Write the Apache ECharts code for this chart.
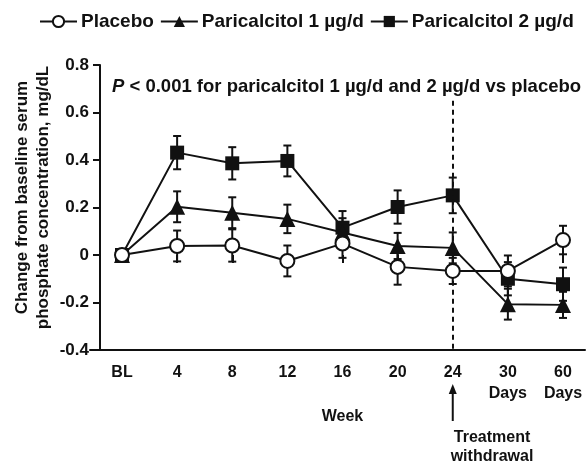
<!DOCTYPE html>
<html><head><meta charset="utf-8">
<script src="https://cdn.jsdelivr.net/npm/echarts@6/dist/echarts.min.js"></script>
<style>html,body{margin:0;padding:0;background:#fff}#c{width:586px;height:465px}</style>
</head><body><div id="c"></div>
<script>
const categories = ['BL','4','8','12','16','20','24','30\nDays','60\nDays'];
const yTicks = { min: -0.4, max: 0.8, interval: 0.2 };
const placebo    = [0, 0.038, 0.040, -0.025, 0.048, -0.050, -0.067, -0.067, 0.063];
const placeboErr = [0, 0.065, 0.068, 0.065, 0.060, 0.075, 0.055, 0.065, 0.060];
const para1      = [0, 0.203, 0.178, 0.152, 0.095, 0.038, 0.030, -0.207, -0.210];
const para1Err   = [0, 0.065, 0.065, 0.060, 0.060, 0.055, 0.065, 0.065, 0.055];
const para2      = [0, 0.431, 0.386, 0.396, 0.115, 0.202, 0.251, -0.100, -0.123];
const para2Err   = [0, 0.070, 0.068, 0.065, 0.070, 0.070, 0.075, 0.070, 0.070];
const names = ['Placebo','Paricalcitol 1 µg/d','Paricalcitol 2 µg/d'];

const FONT = '"Liberation Sans", Arial, sans-serif';
const INK = '#111';
const chart = echarts.init(document.getElementById('c'));

function errData(vals, errs){
  return vals.map((v,i)=>[i, v - errs[i], v + errs[i]]).filter((d,i)=>errs[i]>0);
}
function errSeries(vals, errs){
  return {
    type:'custom', xAxisIndex:0, yAxisIndex:0, z:1, silent:true,
    data: errData(vals, errs),
    renderItem(params, api){
      const x = api.value(0);
      const lo = api.coord([x, api.value(1)]);
      const hi = api.coord([x, api.value(2)]);
      const w = 4;
      const st = {stroke: INK, lineWidth: 2};
      return {type:'group', children:[
        {type:'line', shape:{x1:lo[0],y1:lo[1],x2:hi[0],y2:hi[1]}, style:st},
        {type:'line', shape:{x1:lo[0]-w,y1:lo[1],x2:lo[0]+w,y2:lo[1]}, style:st},
        {type:'line', shape:{x1:hi[0]-w,y1:hi[1],x2:hi[0]+w,y2:hi[1]}, style:st}
      ]};
    }
  };
}
function lineSeries(name, data, symbol, size, fill, z){
  return {
    name, type:'line', data, xAxisIndex:0, yAxisIndex:0, z,
    symbol, symbolSize:size, showAllSymbol:true,
    lineStyle:{color:INK, width:2},
    itemStyle:{color:fill, borderColor:INK, borderWidth: symbol==='circle'?2:0},
    emphasis:{disabled:true}
  };
}

const option = {
  animation:false,
  textStyle:{fontFamily:FONT, fontWeight:'bold', color:INK},
  title:{
    text:'{i|P} < 0.001 for paricalcitol 1 µg/d and 2 µg/d vs placebo',
    left:107, top:72,
    textStyle:{fontFamily:FONT, fontWeight:'bold', fontSize:18.5, color:INK,
      rich:{i:{fontFamily:FONT, fontWeight:'bold', fontStyle:'italic', fontSize:18.5, color:INK}}}
  },
  legend:{
    left:34, top:7, itemWidth:37, itemHeight:14, itemGap:6,
    data:names,
    textStyle:{fontFamily:FONT, fontWeight:'bold', fontSize:19, color:INK, padding:[0,0,0,-1]}
  },
  grid:[
    {left:122, right:23, top:65, bottom:115},
    {left:90, right:1, top:65, bottom:115}
  ],
  xAxis:[
    {type:'category', gridIndex:0, data:categories, boundaryGap:false,
     axisLine:{show:false},
     axisTick:{show:true, length:8, lineStyle:{color:INK, width:2}},
     axisLabel:{fontFamily:FONT, fontWeight:'bold', fontSize:16, color:INK, margin:12, lineHeight:21, interval:0},
     name:'Week', nameLocation:'middle', nameGap:39,
     nameTextStyle:{fontFamily:FONT, fontWeight:'bold', fontSize:16, color:INK},
     splitLine:{show:false}},
    {type:'value', gridIndex:1, min:0, max:1,
     axisLine:{show:true, lineStyle:{color:INK, width:2}},
     axisTick:{show:false}, axisLabel:{show:false}, splitLine:{show:false}}
  ],
  yAxis:[
    {type:'value', gridIndex:0, min:yTicks.min, max:yTicks.max, interval:yTicks.interval, offset:22,
     axisLine:{show:true, onZero:false, lineStyle:{color:INK, width:2}},
     axisTick:{show:true, length:7, lineStyle:{color:INK, width:2}},
     axisLabel:{fontFamily:FONT, fontWeight:'bold', fontSize:17, color:INK, margin:11,
       formatter:v=> Math.abs(v)<1e-9 ? '0' : v.toFixed(1)},
     splitLine:{show:false},
     name:'Change from baseline serum\nphosphate concentration, mg/dL',
     nameLocation:'middle', nameRotate:90, nameGap:46, nameMoveOverlap:false,
     nameTextStyle:{fontFamily:FONT, fontWeight:'bold', fontSize:17, color:INK, lineHeight:21, padding:[0,0,0,20]}},
    {type:'value', gridIndex:1, show:false, min:0, max:1}
  ],
  series:[
    errSeries(para2, para2Err),
    errSeries(para1, para1Err),
    errSeries(placebo, placeboErr),
    Object.assign(lineSeries(names[2], para2, 'rect', 14, INK, 3), {
      markLine:{silent:true, symbol:'none', label:{show:false},
        lineStyle:{color:INK, width:2, type:[5,4]},
        data:[[{coord:['24', 0.65]},{coord:['24', -0.4]}]]}
    }),
    lineSeries(names[1], para1, 'triangle', 16, INK, 4),
    lineSeries(names[0], placebo, 'circle', 14, '#fff', 5)
  ]
};
chart.setOption(option);

const px = chart.convertToPixel({xAxisIndex:0}, '24');
chart.setOption({graphic:[
  {type:'line', shape:{x1:px, y1:421, x2:px, y2:392}, style:{stroke:INK, lineWidth:2}},
  {type:'polygon', shape:{points:[[px,384],[px-4,394],[px+4,394]]}, style:{fill:INK}},
  {type:'text', x:492, y:428, style:{text:'Treatment\nwithdrawal', align:'center', verticalAlign:'top',
    font:'bold 16px ' + FONT, lineHeight:19, fill:INK}}
]});
</script></body></html>
